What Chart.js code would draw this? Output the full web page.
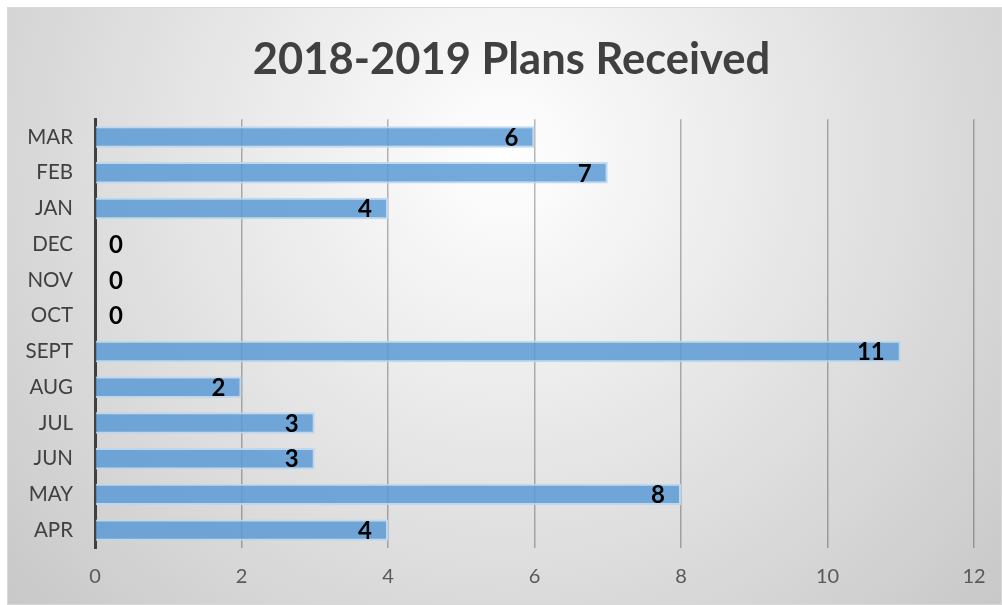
<!DOCTYPE html>
<html>
<head>
<meta charset="utf-8">
<script src="https://cdn.jsdelivr.net/npm/chart.js@4"></script>
<style>
  html, body { margin: 0; padding: 0; background: #fff; }
  #wrap { position: absolute; left: 7px; top: 7px; width: 995px; height: 598px; }
</style>
</head>
<body>
<div id="wrap"><canvas id="plansChart"></canvas></div>
<script>
var months = ["MAR", "FEB", "JAN", "DEC", "NOV", "OCT", "SEPT", "AUG", "JUL", "JUN", "MAY", "APR"];
var plans = [6, 7, 4, 0, 0, 0, 11, 2, 3, 3, 8, 4];
var xTicks = [0, 2, 4, 6, 8, 10, 12];

var FONT = "Lato, 'Open Sans', sans-serif";

// radial grey background with thin border
var bgPlugin = {
    id: 'bgPlugin',
    beforeDraw: function (chart) {
        var ctx = chart.ctx, w = chart.width, h = chart.height;
        var g = ctx.createRadialGradient(w * 0.5, h * 0.25, 0, w * 0.5, h * 0.25, w * 0.72);
        g.addColorStop(0, "#ffffff");
        g.addColorStop(1, "#c4c4c4");
        ctx.save();
        ctx.fillStyle = g;
        ctx.fillRect(0, 0, w, h);
        ctx.strokeStyle = "#d9d9d9";
        ctx.lineWidth = 1;
        ctx.strokeRect(0.5, 0.5, w - 1, h - 1);
        ctx.restore();
    }
};

// value labels at the inside end of each bar
var labelPlugin = {
    id: 'labelPlugin',
    afterDatasetsDraw: function (chart) {
        var ctx = chart.ctx;
        var meta = chart.getDatasetMeta(0);
        var base = chart.scales.x.getPixelForValue(0);
        ctx.save();
        ctx.font = "bold 24px " + FONT;
        ctx.fillStyle = "#000";
        ctx.textBaseline = "middle";
        meta.data.forEach(function (bar, i) {
            var v = plans[i];
            if (v === 0) {
                ctx.textAlign = "left";
                ctx.fillText(String(v), base + 14, bar.y + 1);
            } else {
                ctx.textAlign = "right";
                ctx.fillText(String(v), bar.x - 16, bar.y + 1);
            }
        });
        ctx.restore();
    }
};

var ctx = document.getElementById("plansChart");
var chart = new Chart(ctx, {
    type: 'bar',
    data: {
        labels: months,
        datasets: [{
            data: plans,
            backgroundColor: "rgba(91,155,213,0.85)",
            borderColor: "rgba(189,215,238,0.95)",
            borderWidth: 2,
            categoryPercentage: 0.6,
            barPercentage: 1.0
        }]
    },
    options: {
        indexAxis: 'y',
        responsive: true,
        maintainAspectRatio: false,
        animation: false,
        layout: { padding: { left: 14, right: 0, top: 0, bottom: 0 } },
        plugins: {
            legend: { display: false },
            tooltip: { enabled: false },
            title: {
                display: true,
                text: "2018-2019 Plans Received",
                color: "#404040",
                font: { family: FONT, size: 43.5, weight: 'bold' },
                padding: { top: 27, bottom: 33 }
            }
        },
        scales: {
            x: {
                min: 0,
                max: 12,
                afterBuildTicks: function (axis) {
                    axis.ticks = xTicks.map(function (v) { return { value: v }; });
                },
                afterFit: function (axis) { axis.paddingRight = 28; },
                grid: { color: "rgba(0,0,0,0.28)", lineWidth: 1.5, drawTicks: false },
                border: { display: false },
                ticks: { color: "#595959", font: { family: FONT, size: 20 }, padding: 16.5 }
            },
            y: {
                grid: { display: false, drawTicks: false },
                border: { display: true, color: "#404040", width: 3 },
                ticks: { color: "#404040", font: { family: FONT, size: 20.5 }, padding: 22 },
                afterFit: function (axis) { axis.width = 74; }
            }
        }
    },
    plugins: [bgPlugin, labelPlugin]
});
</script>
</body>
</html>
